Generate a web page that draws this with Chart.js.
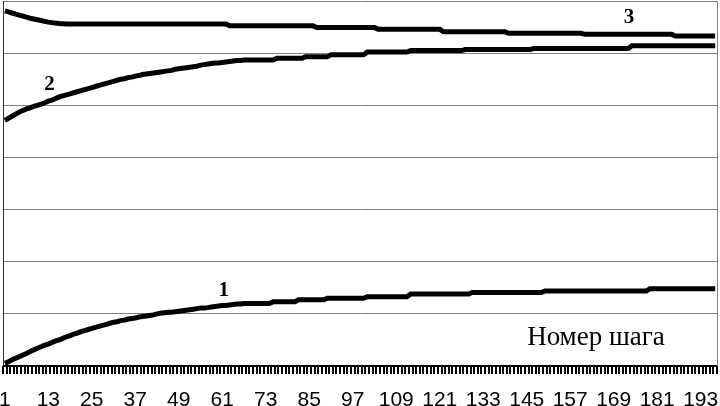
<!DOCTYPE html>
<html>
<head>
<meta charset="utf-8">
<script src="https://cdn.jsdelivr.net/npm/chart.js@4.4.0/dist/chart.umd.min.js"></script>
<style>
  html, body { margin: 0; padding: 0; background: #fff; }
  #wrap { width: 720px; height: 406px; }
</style>
</head>
<body>
<div id="wrap"><canvas id="chart" width="720" height="406"></canvas></div>
<script>
// step numbers (categories on the x axis)
const categories = [
  1, 2, 3, 4, 5, 6, 7, 8, 9, 10, 11, 12, 13, 14, 15, 16, 17, 18, 19, 20,
  21, 22, 23, 24, 25, 26, 27, 28, 29, 30, 31, 32, 33, 34, 35, 36, 37, 38, 39, 40,
  41, 42, 43, 44, 45, 46, 47, 48, 49, 50, 51, 52, 53, 54, 55, 56, 57, 58, 59, 60,
  61, 62, 63, 64, 65, 66, 67, 68, 69, 70, 71, 72, 73, 74, 75, 76, 77, 78, 79, 80,
  81, 82, 83, 84, 85, 86, 87, 88, 89, 90, 91, 92, 93, 94, 95, 96, 97, 98, 99, 100,
  101, 102, 103, 104, 105, 106, 107, 108, 109, 110, 111, 112, 113, 114, 115, 116, 117, 118, 119, 120,
  121, 122, 123, 124, 125, 126, 127, 128, 129, 130, 131, 132, 133, 134, 135, 136, 137, 138, 139, 140,
  141, 142, 143, 144, 145, 146, 147, 148, 149, 150, 151, 152, 153, 154, 155, 156, 157, 158, 159, 160,
  161, 162, 163, 164, 165, 166, 167, 168, 169, 170, 171, 172, 173, 174, 175, 176, 177, 178, 179, 180,
  181, 182, 183, 184, 185, 186, 187, 188, 189, 190, 191, 192, 193, 194, 195, 196, 197
];
// only these step numbers get a label
const tickLabels = [1, 13, 25, 37, 49, 61, 73, 85, 97, 109, 121, 133, 145, 157, 169, 181, 193];

// curve 1 (bottom)
const series1 = [
  0.05, 0.08, 0.12, 0.15, 0.18, 0.21, 0.24, 0.28, 0.31, 0.34,
  0.37, 0.40, 0.42, 0.45, 0.48, 0.50, 0.53, 0.56, 0.58, 0.61,
  0.63, 0.66, 0.68, 0.70, 0.72, 0.74, 0.76, 0.78, 0.80, 0.82,
  0.84, 0.85, 0.87, 0.88, 0.90, 0.91, 0.92, 0.94, 0.95, 0.96,
  0.97, 0.98, 1.00, 1.01, 1.02, 1.03, 1.03, 1.04, 1.05, 1.06,
  1.07, 1.08, 1.09, 1.10, 1.11, 1.11, 1.12, 1.13, 1.14, 1.15,
  1.16, 1.16, 1.17, 1.18, 1.19, 1.19, 1.20, 1.20, 1.20, 1.20,
  1.20, 1.20, 1.20, 1.20, 1.23, 1.23, 1.23, 1.23, 1.23, 1.23,
  1.23, 1.27, 1.27, 1.27, 1.27, 1.27, 1.27, 1.27, 1.27, 1.30,
  1.30, 1.30, 1.30, 1.30, 1.30, 1.30, 1.30, 1.30, 1.30, 1.30,
  1.33, 1.33, 1.33, 1.33, 1.33, 1.33, 1.33, 1.33, 1.33, 1.33,
  1.33, 1.33, 1.38, 1.38, 1.38, 1.38, 1.38, 1.38, 1.38, 1.38,
  1.38, 1.38, 1.38, 1.38, 1.38, 1.38, 1.38, 1.38, 1.38, 1.41,
  1.41, 1.41, 1.41, 1.41, 1.41, 1.41, 1.41, 1.41, 1.41, 1.41,
  1.41, 1.41, 1.41, 1.41, 1.41, 1.41, 1.41, 1.41, 1.41, 1.44,
  1.44, 1.44, 1.44, 1.44, 1.44, 1.44, 1.44, 1.44, 1.44, 1.44,
  1.44, 1.44, 1.44, 1.44, 1.44, 1.44, 1.44, 1.44, 1.44, 1.44,
  1.44, 1.44, 1.44, 1.44, 1.44, 1.44, 1.44, 1.44, 1.48, 1.48,
  1.48, 1.48, 1.48, 1.48, 1.48, 1.48, 1.48, 1.48, 1.48, 1.48,
  1.48, 1.48, 1.48, 1.48, 1.48, 1.48, 1.48
];
// curve 2 (middle)
const series2 = [
  4.71, 4.75, 4.79, 4.83, 4.87, 4.90, 4.93, 4.95, 4.98, 5.00,
  5.02, 5.05, 5.08, 5.10, 5.13, 5.16, 5.18, 5.20, 5.22, 5.24,
  5.26, 5.28, 5.30, 5.32, 5.34, 5.36, 5.38, 5.40, 5.42, 5.44,
  5.46, 5.48, 5.50, 5.51, 5.53, 5.54, 5.56, 5.57, 5.59, 5.60,
  5.61, 5.62, 5.63, 5.64, 5.65, 5.66, 5.67, 5.69, 5.70, 5.71,
  5.72, 5.73, 5.74, 5.75, 5.77, 5.78, 5.79, 5.80, 5.81, 5.81,
  5.82, 5.83, 5.84, 5.85, 5.86, 5.86, 5.87, 5.87, 5.87, 5.87,
  5.87, 5.87, 5.87, 5.87, 5.87, 5.90, 5.90, 5.90, 5.90, 5.90,
  5.90, 5.90, 5.90, 5.93, 5.93, 5.93, 5.93, 5.93, 5.93, 5.93,
  5.97, 5.97, 5.97, 5.97, 5.97, 5.97, 5.97, 5.97, 5.97, 5.97,
  6.02, 6.02, 6.02, 6.02, 6.02, 6.02, 6.02, 6.02, 6.02, 6.02,
  6.02, 6.02, 6.05, 6.05, 6.05, 6.05, 6.05, 6.05, 6.05, 6.05,
  6.05, 6.05, 6.05, 6.05, 6.05, 6.05, 6.05, 6.07, 6.07, 6.07,
  6.07, 6.07, 6.07, 6.07, 6.07, 6.07, 6.07, 6.07, 6.07, 6.07,
  6.07, 6.07, 6.07, 6.07, 6.07, 6.07, 6.09, 6.09, 6.09, 6.09,
  6.09, 6.09, 6.09, 6.09, 6.09, 6.09, 6.09, 6.09, 6.09, 6.09,
  6.09, 6.09, 6.09, 6.09, 6.09, 6.09, 6.09, 6.09, 6.09, 6.09,
  6.09, 6.09, 6.09, 6.14, 6.14, 6.14, 6.14, 6.14, 6.14, 6.14,
  6.14, 6.14, 6.14, 6.14, 6.14, 6.14, 6.14, 6.14, 6.14, 6.14,
  6.14, 6.14, 6.14, 6.14, 6.14, 6.14, 6.14
];
// curve 3 (top)
const series3 = [
  6.81, 6.79, 6.77, 6.75, 6.73, 6.71, 6.69, 6.67, 6.655, 6.64,
  6.625, 6.61, 6.595, 6.585, 6.577, 6.57, 6.565, 6.56, 6.56, 6.56,
  6.56, 6.56, 6.56, 6.56, 6.56, 6.56, 6.56, 6.56, 6.56, 6.56,
  6.56, 6.56, 6.56, 6.56, 6.56, 6.56, 6.56, 6.56, 6.56, 6.56,
  6.56, 6.56, 6.56, 6.56, 6.56, 6.56, 6.56, 6.56, 6.56, 6.56,
  6.56, 6.56, 6.56, 6.56, 6.56, 6.56, 6.56, 6.56, 6.56, 6.56,
  6.56, 6.56, 6.525, 6.525, 6.525, 6.525, 6.525, 6.525, 6.525, 6.525,
  6.525, 6.525, 6.525, 6.525, 6.525, 6.525, 6.525, 6.525, 6.525, 6.525,
  6.525, 6.525, 6.525, 6.525, 6.525, 6.525, 6.49, 6.49, 6.49, 6.49,
  6.49, 6.49, 6.49, 6.49, 6.49, 6.49, 6.49, 6.49, 6.49, 6.49,
  6.49, 6.49, 6.49, 6.46, 6.46, 6.46, 6.46, 6.46, 6.46, 6.46,
  6.46, 6.46, 6.46, 6.46, 6.46, 6.46, 6.46, 6.46, 6.46, 6.46,
  6.46, 6.41, 6.41, 6.41, 6.41, 6.41, 6.41, 6.41, 6.41, 6.41,
  6.41, 6.41, 6.41, 6.41, 6.41, 6.41, 6.41, 6.41, 6.41, 6.38,
  6.38, 6.38, 6.38, 6.38, 6.38, 6.38, 6.38, 6.38, 6.38, 6.38,
  6.38, 6.38, 6.38, 6.38, 6.38, 6.38, 6.38, 6.38, 6.38, 6.38,
  6.36, 6.36, 6.36, 6.36, 6.36, 6.36, 6.36, 6.36, 6.36, 6.36,
  6.36, 6.36, 6.36, 6.36, 6.36, 6.36, 6.36, 6.36, 6.36, 6.36,
  6.36, 6.36, 6.36, 6.36, 6.36, 6.33, 6.33, 6.33, 6.33, 6.33,
  6.33, 6.33, 6.33, 6.33, 6.33, 6.33, 6.33
];
const curveNames = ['1', '2', '3'];
const axisTitle = 'Номер шага';

// text labels placed in data coordinates (category index, value)
const notes = [
  { text: curveNames[0], at: [60.4, 1.34], font: 'bold 21px "Liberation Serif"' },
  { text: curveNames[1], at: [12.3, 5.29], font: 'bold 21px "Liberation Serif"' },
  { text: curveNames[2], at: [172.2, 6.58], font: 'bold 21px "Liberation Serif"' },
  { text: axisTitle, at: [163.1, 0.40], font: '27px "Liberation Serif"' }
];

// the x axis line, a tick between every category, then the text notes
const extrasPlugin = {
  id: 'extras',
  afterDatasetsDraw(chart) {
    const ctx = chart.ctx;
    const xs = chart.scales.x, ys = chart.scales.y;
    const area = chart.chartArea;
    const base = Math.round(area.bottom);
    ctx.save();
    ctx.fillStyle = '#000';
    for (let i = 0; i <= categories.length; i++) {
      const px = Math.round(xs.getPixelForValue(i - 0.5));
      ctx.fillRect(px - 1, base, 2, 8);
    }
    ctx.fillRect(Math.round(area.left), base - 1, Math.round(area.right - area.left), 2);
    ctx.textAlign = 'center';
    ctx.textBaseline = 'alphabetic';
    notes.forEach(n => {
      ctx.font = n.font;
      ctx.fillText(n.text, xs.getPixelForValue(n.at[0]), ys.getPixelForValue(n.at[1]));
    });
    ctx.restore();
  }
};

function lineSet(data) {
  return {
    data: data,
    borderColor: '#000',
    borderWidth: 5,
    pointRadius: 0,
    tension: 0,
    fill: false
  };
}

new Chart(document.getElementById('chart').getContext('2d'), {
  type: 'line',
  data: {
    labels: categories,
    datasets: [lineSet(series1), lineSet(series2), lineSet(series3)]
  },
  options: {
    responsive: false,
    animation: false,
    devicePixelRatio: 1,
    layout: { padding: { left: 2, right: 2, top: 1, bottom: 0 } },
    plugins: { legend: { display: false }, tooltip: { enabled: false } },
    scales: {
      x: {
        offset: true,
        grid: { display: false },
        border: { display: false },
        ticks: {
          autoSkip: false,
          maxRotation: 0,
          minRotation: 0,
          padding: 14,
          color: '#000',
          font: { family: '"Liberation Sans", Arial, sans-serif', size: 21 },
          callback: function (val, idx) {
            const c = categories[idx];
            return tickLabels.includes(c) ? String(c) : '';
          }
        },
        afterFit: function (scale) {
          scale.height = 40;
          scale.paddingLeft = 0;
          scale.paddingRight = 0;
        }
      },
      y: {
        min: 0,
        max: 7,
        ticks: { display: false, stepSize: 1 },
        grid: { color: '#808080', lineWidth: 1, drawTicks: false },
        border: { display: true, color: '#333', width: 1 },
        afterFit: function (scale) { scale.width = 1; }
      },
      y2: {
        position: 'right',
        min: 0,
        max: 7,
        ticks: { display: false },
        grid: { drawOnChartArea: false, drawTicks: false },
        border: { display: true, color: '#808080', width: 1 },
        afterFit: function (scale) { scale.width = 1; }
      }
    }
  },
  plugins: [extrasPlugin]
});
</script>
</body>
</html>
